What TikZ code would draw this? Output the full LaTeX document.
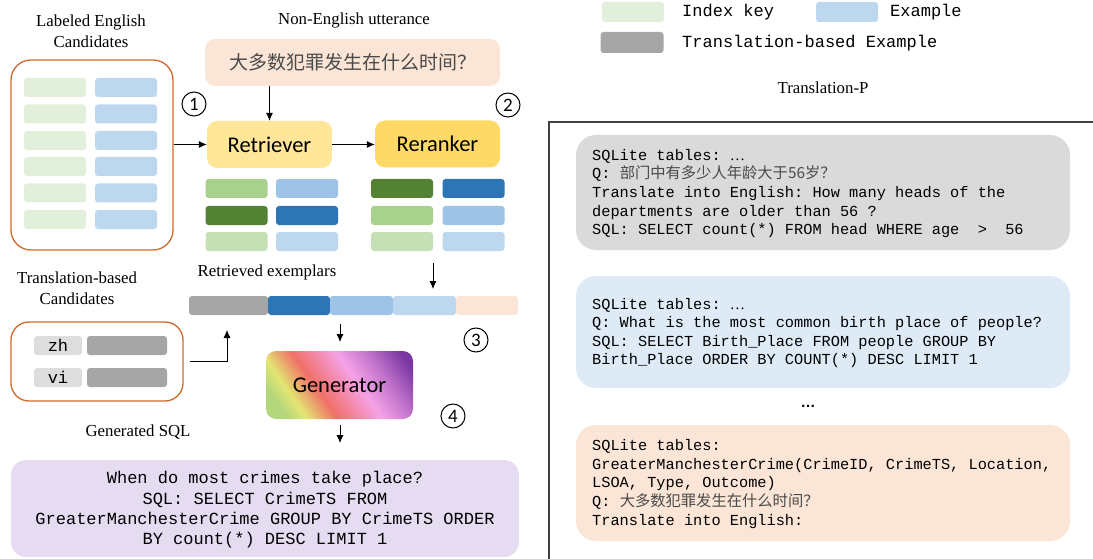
\documentclass[tikz,border=0pt]{standalone}
\usepackage{fontspec}
\setmainfont{Liberation Serif}
\setmonofont{Liberation Mono}
\newfontfamily\cjk{Noto Sans CJK SC}
\newfontfamily\calib{Carlito}
\newfontfamily\sansf{Liberation Sans}
\usetikzlibrary{arrows.meta}
\definecolor{lgreen}{HTML}{E2EFDA}
\definecolor{lblue}{HTML}{BDD7EE}
\definecolor{mgreen}{HTML}{A9D18E}
\definecolor{mblue}{HTML}{9DC3E6}
\definecolor{dgreen}{HTML}{548235}
\definecolor{dblue}{HTML}{2E75B6}
\definecolor{pgreen}{HTML}{C5E0B4}
\definecolor{peach}{HTML}{FBE5D6}
\definecolor{retc}{HTML}{FFE699}
\definecolor{rerc}{HTML}{FFD966}
\definecolor{lgray}{HTML}{DDDDDD}
\definecolor{dgray}{HTML}{A6A6A6}
\definecolor{purp}{HTML}{E6DCF2}
\definecolor{rgray}{HTML}{DADADA}
\definecolor{rblue}{HTML}{DEEBF7}
\definecolor{frame}{HTML}{404040}
\definecolor{orng}{HTML}{CF6A2C}
\definecolor{cjkgray}{HTML}{4A4A4A}
\definecolor{gA}{HTML}{B4D67C}
\definecolor{gB}{HTML}{E2E672}
\definecolor{gC}{HTML}{F07068}
\definecolor{gD}{HTML}{F5A2E6}
\definecolor{gE}{HTML}{C274CC}
\definecolor{gF}{HTML}{7A36A2}
\pgfdeclarehorizontalshading{genshade}{100bp}{color(0bp)=(gA); color(23bp)=(gA); color(30bp)=(gB); color(41bp)=(gC); color(57bp)=(gD); color(68bp)=(gE); color(80bp)=(gF); color(100bp)=(gF)}
\newcommand\fLab{\fontsize{16.8}{21}\selectfont}
\newcommand\fMono{\ttfamily\fontsize{15.3}{18.6}\selectfont}
\newcommand\fMonoB{\ttfamily\fontsize{17}{20.3}\selectfont}
\newcommand\fCal{\calib\fontsize{22.5}{24}\selectfont}
\begin{document}
\begin{tikzpicture}[x=1pt,y=-1pt,
  cell/.style={rectangle,rounded corners=3,minimum width=62,minimum height=19,inner sep=0},
  obox/.style={draw=orng,line width=1.3,rounded corners=20,inner sep=0},
  lbl/.style={font=\fLab,align=center,inner sep=0},
  num/.style={circle,draw,line width=1,minimum size=24,inner sep=0,font=\calib\fontsize{19}{19}\selectfont},
  arr/.style={-{Latex[length=8,width=7]},line width=0.8},
  model/.style={rectangle,rounded corners=10,minimum height=47,inner sep=0,font=\fCal},
  panel/.style={rectangle,rounded corners=20,minimum width=494,inner sep=0},
  code/.style={anchor=west,align=left,inner sep=0,font=\fMono}]
\useasboundingbox (0,0) rectangle (1093,559);
% left labeled english candidates
\node[lbl] (t1) at (91,31) {Labeled English\\Candidates};
\node[obox,minimum width=162,minimum height=190] (lec) at (92,155) {};
\foreach \i/\y in {1/87.5,2/114,3/140.5,4/166.5,5/193,6/219.5}{
  \node[cell,fill=lgreen] (kg\i) at (55,\y) {};
  \node[cell,fill=lblue] (kb\i) at (126,\y) {};
}
\node[num] (n1) at (194,104) {1};
% utterance
\node[lbl] (t2) at (354,20) {Non-English utterance};
\node[rectangle,rounded corners=10,fill=peach,minimum width=295,minimum height=47,inner sep=0,
  font=\cjk\fontsize{19}{19}\selectfont,text=cjkgray] (utt) at (352.5,62.5) {大多数犯罪发生在什么时间？};
% retriever / reranker
\node[model,fill=retc,minimum width=125] (ret) at (269.5,144.5) {Retriever};
\node[model,fill=rerc,minimum width=125] (rer) at (437.5,144) {Reranker};
\node[num] (n2) at (508,105) {2};
\draw[arr] (lec.east |- ret.west) -- (ret.west);
\draw[arr] (ret.north |- utt.south) -- (ret.north);
\draw[arr] (ret.east) -- (rer.west |- ret.east);
% retriever outputs
\node[cell,fill=mgreen] (ra1) at (236.5,188.5) {};
\node[cell,fill=mblue] (rb1) at (307,188.5) {};
\node[cell,fill=dgreen] (ra2) at (236.5,215.5) {};
\node[cell,fill=dblue] (rb2) at (307,215.5) {};
\node[cell,fill=pgreen] (ra3) at (236.5,241.5) {};
\node[cell,fill=lblue] (rb3) at (307,241.5) {};
% reranker outputs
\node[cell,fill=dgreen] (sa1) at (402,188.5) {};
\node[cell,fill=dblue] (sb1) at (473.5,188.5) {};
\node[cell,fill=mgreen] (sa2) at (402,215.5) {};
\node[cell,fill=mblue] (sb2) at (473.5,215.5) {};
\node[cell,fill=pgreen] (sa3) at (402,241.5) {};
\node[cell,fill=lblue] (sb3) at (473.5,241.5) {};
% retrieved exemplars
\node[lbl] (t3) at (267,272) {Retrieved exemplars};
\coordinate (c4a) at (433,263);
\coordinate (c4b) at (433,289);
\draw[arr] (c4a) -- (c4b);
\node[cell,fill=dgray,minimum width=79] (e1) at (228.5,305.5) {};
\node[cell,fill=dblue,minimum width=62] (e2) at (299,305.5) {};
\node[cell,fill=mblue,minimum width=63] (e3) at (361.5,305.5) {};
\node[cell,fill=lblue,minimum width=63] (e4) at (424.5,305.5) {};
\node[cell,fill=peach,minimum width=62] (e5) at (487,305.5) {};
\node[num] (n3) at (476,340) {3};
% translation based candidates
\node[lbl] (t4) at (77,288) {Translation-based\\Candidates};
\node[obox,minimum width=172,minimum height=79,rounded corners=18] (tbc) at (97,361.5) {};
\node[cell,fill=lgray,minimum width=48,font=\fMonoB] (zh) at (58,345.5) {zh};
\node[cell,fill=dgray,minimum width=80] (zhb) at (127,345.5) {};
\node[cell,fill=lgray,minimum width=48,font=\fMonoB] (vi) at (58,377.5) {vi};
\node[cell,fill=dgray,minimum width=80] (vib) at (127,377.5) {};
\coordinate (c7) at (227,330);
\draw[arr] ([xshift=6]tbc.east) -| (c7);
% generator
\coordinate (c5a) at (340,324);
\coordinate (c5b) at (340,342);
\draw[arr] (c5a) -- (c5b);
\node[model,shade,shading=genshade,shading angle=35,minimum width=147,minimum height=68] (gen) at (339.5,385) {Generator};
\node[num] (n4) at (453,416) {4};
\coordinate (c6a) at (340,425);
\coordinate (c6b) at (340,443);
\draw[arr] (c6a) -- (c6b);
\node[lbl] (t5) at (138,432) {Generated SQL};
% generated sql
\node[rectangle,rounded corners=15,fill=purp,minimum width=508,minimum height=97,inner sep=0] (out) at (265,508.5) {};
\node[align=center,inner sep=0,font=\fMonoB] (outt) at (265,510) {When do most crimes take place?\\SQL: SELECT CrimeTS FROM\\GreaterManchesterCrime GROUP BY CrimeTS ORDER\\BY count(*) DESC LIMIT 1};
% legend
\node[cell,fill=lgreen,minimum width=62,minimum height=20] (lg1) at (633,12) {};
\node[anchor=west,inner sep=0,font=\fMonoB] (lt1) at (682,12) {Index key};
\node[cell,fill=lblue,minimum width=62,minimum height=20] (lg2) at (847,12) {};
\node[anchor=west,inner sep=0,font=\fMonoB] (lt2) at (890,12) {Example};
\node[cell,fill=dgray,minimum width=63,minimum height=21] (lg3) at (632,42.5) {};
\node[anchor=west,inner sep=0,font=\fMonoB] (lt3) at (682,43) {Translation-based Example};
% right panel
\node[lbl] (t6) at (823,88) {Translation-P};
\draw[frame,line width=1.3] (549,559) -- (549,122) -- (1093,122);
\node[panel,fill=rgray,minimum height=115] (p1) at (823,192.5) {};
\node[code] (p1t) at (592,193.5) {SQLite tables: \textrm{…}\\Q: {\cjk\color{cjkgray}部门中有多少人年龄大于56岁？}\\Translate into English: How many heads of the\\departments are older than 56 ?\\SQL: SELECT count(*) FROM head WHERE age\ \ >\ \ 56};
\node[panel,fill=rblue,minimum height=112] (p2) at (823,332) {};
\node[code] (p2t) at (592,333) {SQLite tables: \textrm{…}\\Q: What is the most common birth place of people?\\SQL: SELECT Birth\_Place FROM people GROUP BY\\Birth\_Place ORDER BY COUNT(*) DESC LIMIT 1};
\node[inner sep=0,font=\sansf\bfseries\fontsize{15}{15}\selectfont] (dots) at (808,406) {…};
\node[panel,fill=peach,minimum height=116] (p3) at (823,483) {};
\node[code] (p3t) at (592,484) {SQLite tables:\\GreaterManchesterCrime(CrimeID, CrimeTS, Location,\\LSOA, Type, Outcome)\\Q: {\cjk\color{cjkgray}大多数犯罪发生在什么时间？}\\Translate into English:};
\end{tikzpicture}
\end{document}
